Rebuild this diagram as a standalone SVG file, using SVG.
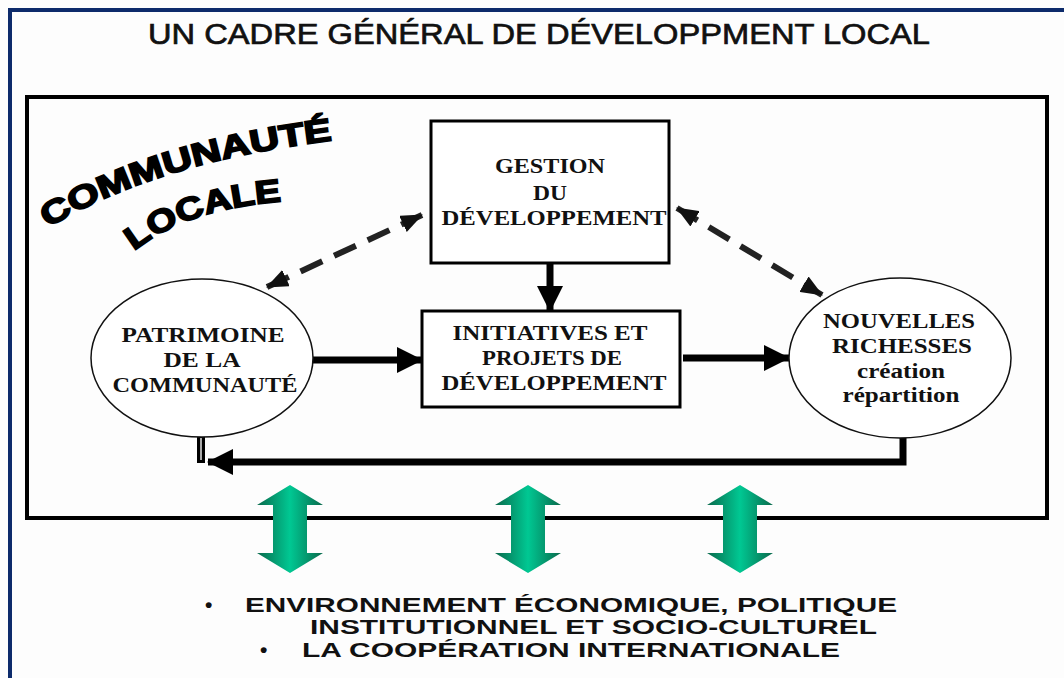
<svg xmlns="http://www.w3.org/2000/svg" width="1064" height="678" viewBox="0 0 1064 678">
<defs>
<style>
.node{fill:#fff;stroke:#000;stroke-width:3}
.ell{fill:#fff;stroke:#111;stroke-width:1.5}
.lc{font-family:"Liberation Serif","Times New Roman",serif;font-weight:bold;font-size:22px;fill:#111}
.bot{font-family:"Liberation Sans",Arial,sans-serif;font-weight:bold;font-size:21px;fill:#111}
.solid{fill:none;stroke:#000;stroke-width:7}
.dash{fill:none;stroke:#222;stroke-width:6;stroke-dasharray:24 13}
.big{font-family:"Liberation Sans",Arial,sans-serif;font-weight:bold;font-size:32px;fill:#000;stroke:#000;stroke-width:1.8}
</style>
<marker id="ah" markerUnits="userSpaceOnUse" viewBox="0 0 26 26" markerWidth="26" markerHeight="26" refX="25" refY="13" orient="auto-start-reverse">
<path d="M0,0 L26,13 L0,26 z" fill="#000"/>
</marker>
<marker id="dh" markerUnits="userSpaceOnUse" viewBox="0 0 22 18" markerWidth="22" markerHeight="18" refX="21" refY="9" orient="auto-start-reverse">
<path d="M0,0 L22,9 L0,18 z" fill="#111"/>
</marker>
<linearGradient id="gr" x1="0" y1="0" x2="1" y2="0">
<stop offset="0" stop-color="#0a6a4c"/>
<stop offset="0.5" stop-color="#00c893"/>
<stop offset="1" stop-color="#0a6a4c"/>
</linearGradient>
<path id="arc1" d="M48,228 Q158,161 337,140"/>
<path id="arc2" d="M134,251 Q188,208 286,201"/>
</defs>
<rect x="0" y="0" width="1064" height="678" fill="#fdfdfd"/>
<path d="M10,678 L10,10 L1064,10" fill="none" stroke="#0d2b6b" stroke-width="4"/>
<text x="539" y="44" text-anchor="middle" font-family="'Liberation Sans',Arial,sans-serif" font-size="30" fill="#111" stroke="#111" stroke-width="0.7" textLength="782" lengthAdjust="spacingAndGlyphs">UN CADRE GÉNÉRAL DE DÉVELOPPMENT LOCAL</text>
<rect id="frame" x="27" y="97" width="1020" height="421" fill="none" stroke="#000" stroke-width="4"/>
<g id="community-label">
<text class="big"><textPath href="#arc1" textLength="300" lengthAdjust="spacingAndGlyphs">COMMUNAUTÉ</textPath></text>
<text class="big"><textPath href="#arc2" textLength="158" lengthAdjust="spacingAndGlyphs">LOCALE</textPath></text>
</g>
<g id="connectors">
<path class="dash" d="M267,287 L422,215" marker-start="url(#dh)" marker-end="url(#dh)"/>
<path class="dash" d="M677,208 L822,295" marker-start="url(#dh)" marker-end="url(#dh)"/>
<path class="solid" d="M550,264 L550,311" stroke-width="8" marker-end="url(#ah)"/>
<path class="solid" d="M313,360 L422,360" marker-end="url(#ah)"/>
<path class="solid" d="M683,358 L789,358" marker-end="url(#ah)"/>
<path class="solid" d="M903,438 L903,462 L208,462" stroke-linejoin="miter" marker-end="url(#ah)"/>
<line x1="201" y1="437" x2="201" y2="463" stroke="#000" stroke-width="8"/>
<line x1="201" y1="438" x2="201" y2="460" stroke="#aaa" stroke-width="2"/>
</g>
<g id="gestion">
<rect class="node" x="431" y="121" width="238" height="142"/>
<text class="lc" x="550" y="173" text-anchor="middle" textLength="110" lengthAdjust="spacingAndGlyphs">GESTION</text>
<text class="lc" x="550" y="200" text-anchor="middle" textLength="34" lengthAdjust="spacingAndGlyphs">DU</text>
<text class="lc" x="554" y="225" text-anchor="middle" textLength="225" lengthAdjust="spacingAndGlyphs">DÉVELOPPEMENT</text>
</g>
<g id="initiatives">
<rect class="node" x="422" y="311" width="258" height="96"/>
<text class="lc" x="550" y="340" text-anchor="middle" textLength="195" lengthAdjust="spacingAndGlyphs">INITIATIVES ET</text>
<text class="lc" x="552" y="365" text-anchor="middle" textLength="140" lengthAdjust="spacingAndGlyphs">PROJETS DE</text>
<text class="lc" x="554" y="390" text-anchor="middle" textLength="225" lengthAdjust="spacingAndGlyphs">DÉVELOPPEMENT</text>
</g>
<g id="patrimoine">
<ellipse class="ell" cx="202" cy="358" rx="111" ry="79"/>
<text class="lc" x="203" y="342" text-anchor="middle" textLength="163" lengthAdjust="spacingAndGlyphs">PATRIMOINE</text>
<text class="lc" x="202" y="367" text-anchor="middle" textLength="77" lengthAdjust="spacingAndGlyphs">DE LA</text>
<text class="lc" x="205" y="392" text-anchor="middle" textLength="185" lengthAdjust="spacingAndGlyphs">COMMUNAUTÉ</text>
</g>
<g id="nouvelles">
<ellipse class="ell" cx="900" cy="358" rx="111" ry="80"/>
<text class="lc" x="899" y="328" text-anchor="middle" textLength="152" lengthAdjust="spacingAndGlyphs">NOUVELLES</text>
<text class="lc" x="902" y="353" text-anchor="middle" textLength="140" lengthAdjust="spacingAndGlyphs">RICHESSES</text>
<text class="lc" x="901" y="378" text-anchor="middle" textLength="88" lengthAdjust="spacingAndGlyphs">création</text>
<text class="lc" x="901" y="402" text-anchor="middle" textLength="117" lengthAdjust="spacingAndGlyphs">répartition</text>
</g>
<g id="green-arrows" fill="url(#gr)">
<polygon points="290,485 323,505 307,505 307,553 323,553 290,573 257,553 273,553 273,505 257,505"/>
<polygon points="528,485 561,505 545,505 545,553 561,553 528,573 495,553 511,553 511,505 495,505"/>
<polygon points="740,485 773,505 757,505 757,553 773,553 740,573 707,553 723,553 723,505 707,505"/>
</g>
<g id="environment">
<text class="bot" x="205" y="612">•</text>
<text class="bot" x="245" y="612" textLength="652" lengthAdjust="spacingAndGlyphs">ENVIRONNEMENT ÉCONOMIQUE, POLITIQUE</text>
<text class="bot" x="310" y="634" textLength="567" lengthAdjust="spacingAndGlyphs">INSTITUTIONNEL ET SOCIO-CULTUREL</text>
<text class="bot" x="260" y="657">•</text>
<text class="bot" x="302" y="657" textLength="538" lengthAdjust="spacingAndGlyphs">LA COOPÉRATION INTERNATIONALE</text>
</g>
</svg>
